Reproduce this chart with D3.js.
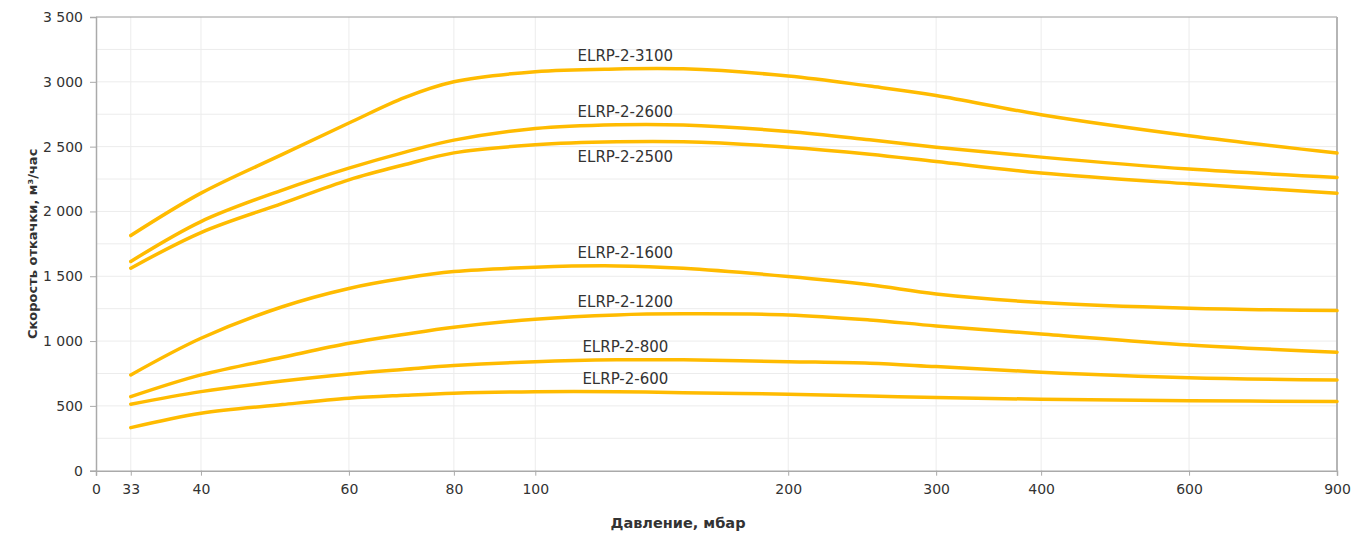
<!DOCTYPE html>
<html><head><meta charset="utf-8">
<script src="https://cdn.jsdelivr.net/npm/d3@7"></script>
<style>
html,body{margin:0;padding:0;background:#fff;}
svg text{font-family:"DejaVu Sans",sans-serif;fill:#333;}
</style></head>
<body><svg id="c" width="1371" height="533"></svg>
<script>
// ---- data ----
const pressure = [33, 40, 50, 60, 70, 80, 100, 125, 150, 200, 250, 300, 400, 600, 900];
const seriesNames = ["ELRP-2-3100","ELRP-2-2600","ELRP-2-2500","ELRP-2-1600","ELRP-2-1200","ELRP-2-800","ELRP-2-600"];
const s3100 = [1814, 2141, 2440, 2682, 2880, 3000, 3078, 3099, 3100, 3045, 2967, 2895, 2746, 2584, 2450];
const s2600 = [1614, 1922, 2165, 2334, 2458, 2550, 2640, 2669, 2667, 2617, 2553, 2496, 2419, 2327, 2262];
const s2500 = [1562, 1837, 2062, 2244, 2362, 2452, 2514, 2537, 2537, 2496, 2442, 2385, 2296, 2213, 2141];
const s1600 = [739, 1022, 1265, 1406, 1486, 1536, 1570, 1580, 1562, 1498, 1434, 1364, 1297, 1253, 1235];
const s1200 = [571, 739, 875, 983, 1053, 1107, 1169, 1202, 1210, 1202, 1163, 1117, 1055, 970, 914];
const s800  = [513, 610, 692, 746, 782, 811, 841, 855, 855, 841, 829, 803, 760, 718, 700];
const s600  = [332, 443, 510, 559, 582, 598, 610, 610, 602, 590, 577, 564, 551, 540, 533];
const xTickValues = [30, 33, 40, 60, 80, 100, 200, 300, 400, 600, 900];
const xTickLabels = ["0", "33", "40", "60", "80", "100", "200", "300", "400", "600", "900"];
const yTickValues = [0, 500, 1000, 1500, 2000, 2500, 3000, 3500];
const yGridValues = [250, 500, 750, 1000, 1250, 1500, 1750, 2000, 2250, 2500, 2750, 3000, 3250];
const xTitle = "Давление, мбар";
const yTitle = "Скорость откачки, м³/час";

const seriesValues = [s3100, s2600, s2500, s1600, s1200, s800, s600];
const labelBelow = [false, false, true, false, false, false, false];

// ---- layout ----
const L = 96, R = 1337, T = 17, B = 470.7;
const svg = d3.select("#c");
const x = d3.scaleLog().domain([30, 900]).range([L, R]);
const y = d3.scaleLinear().domain([0, 3500]).range([B, T]);
const loc = d3.formatLocale({decimal: ",", thousands: " ", grouping: [3], currency: ["", ""]});
const fmt = loc.format(",d");

// grid
svg.append("g").selectAll("line").data(yGridValues).join("line")
  .attr("x1", L).attr("x2", R).attr("y1", d => y(d)).attr("y2", d => y(d))
  .attr("stroke", "#ececec").attr("stroke-width", 1);
svg.append("g").selectAll("line").data(xTickValues.slice(1, -1)).join("line")
  .attr("x1", d => x(d)).attr("x2", d => x(d)).attr("y1", T).attr("y2", B)
  .attr("stroke", "#ececec").attr("stroke-width", 1);

// border top/right
svg.append("line").attr("x1", L).attr("x2", R).attr("y1", T).attr("y2", T).attr("stroke", "#9a9a9a").attr("stroke-width", 1);
svg.append("line").attr("x1", R).attr("x2", R).attr("y1", T).attr("y2", B).attr("stroke", "#b5b5b5").attr("stroke-width", 2);

// axes
const xAxis = d3.axisBottom(x).tickValues(xTickValues).tickFormat((d, i) => xTickLabels[i]).tickSize(5).tickPadding(8);
const gx = svg.append("g").attr("transform", `translate(0,${B})`).call(xAxis);
gx.select(".domain").attr("stroke", "#aaa").attr("stroke-width", 1.5);
gx.selectAll(".tick line").attr("stroke", "#aaa");
gx.selectAll(".tick text").attr("font-size", 14).attr("fill", "#333").attr("font-family", "DejaVu Sans");

const yAxis = d3.axisLeft(y).tickValues(yTickValues).tickFormat(fmt).tickSize(6).tickPadding(7);
const gy = svg.append("g").attr("transform", `translate(${L},0)`).call(yAxis);
gy.select(".domain").attr("stroke", "#aaa").attr("stroke-width", 1.5);
gy.selectAll(".tick line").attr("stroke", "#aaa");
gy.selectAll(".tick text").attr("font-size", 14).attr("fill", "#333").attr("font-family", "DejaVu Sans");

// lines
const line = d3.line().x(d => x(d[0])).y(d => y(d[1])).curve(d3.curveCatmullRom.alpha(0.5));
seriesValues.forEach((vals, i) => {
  const pts = pressure.map((p, j) => [p, vals[j]]);
  svg.append("path").datum(pts).attr("d", line)
    .attr("fill", "none").attr("stroke", "#ffbb00").attr("stroke-width", 3.5)
    .attr("stroke-linecap", "round").attr("stroke-linejoin", "round");
  const k = pressure.indexOf(125);
  svg.append("text").attr("x", x(128)).attr("y", y(vals[k]) + (labelBelow[i] ? 15 : -13))
    .attr("text-anchor", "middle").attr("dominant-baseline", "central")
    .attr("font-size", 15).text(seriesNames[i]);
});

// titles
svg.append("text").attr("x", 678).attr("y", 523).attr("text-anchor", "middle").attr("dominant-baseline", "central")
  .attr("font-size", 14.5).attr("font-weight", "bold").attr("fill", "#111").text(xTitle);
svg.append("text").attr("transform", `translate(32,${(T + B) / 2}) rotate(-90)`).attr("text-anchor", "middle")
  .attr("dominant-baseline", "central").attr("font-size", 13).attr("font-weight", "bold").attr("fill", "#111").text(yTitle);
</script></body></html>
